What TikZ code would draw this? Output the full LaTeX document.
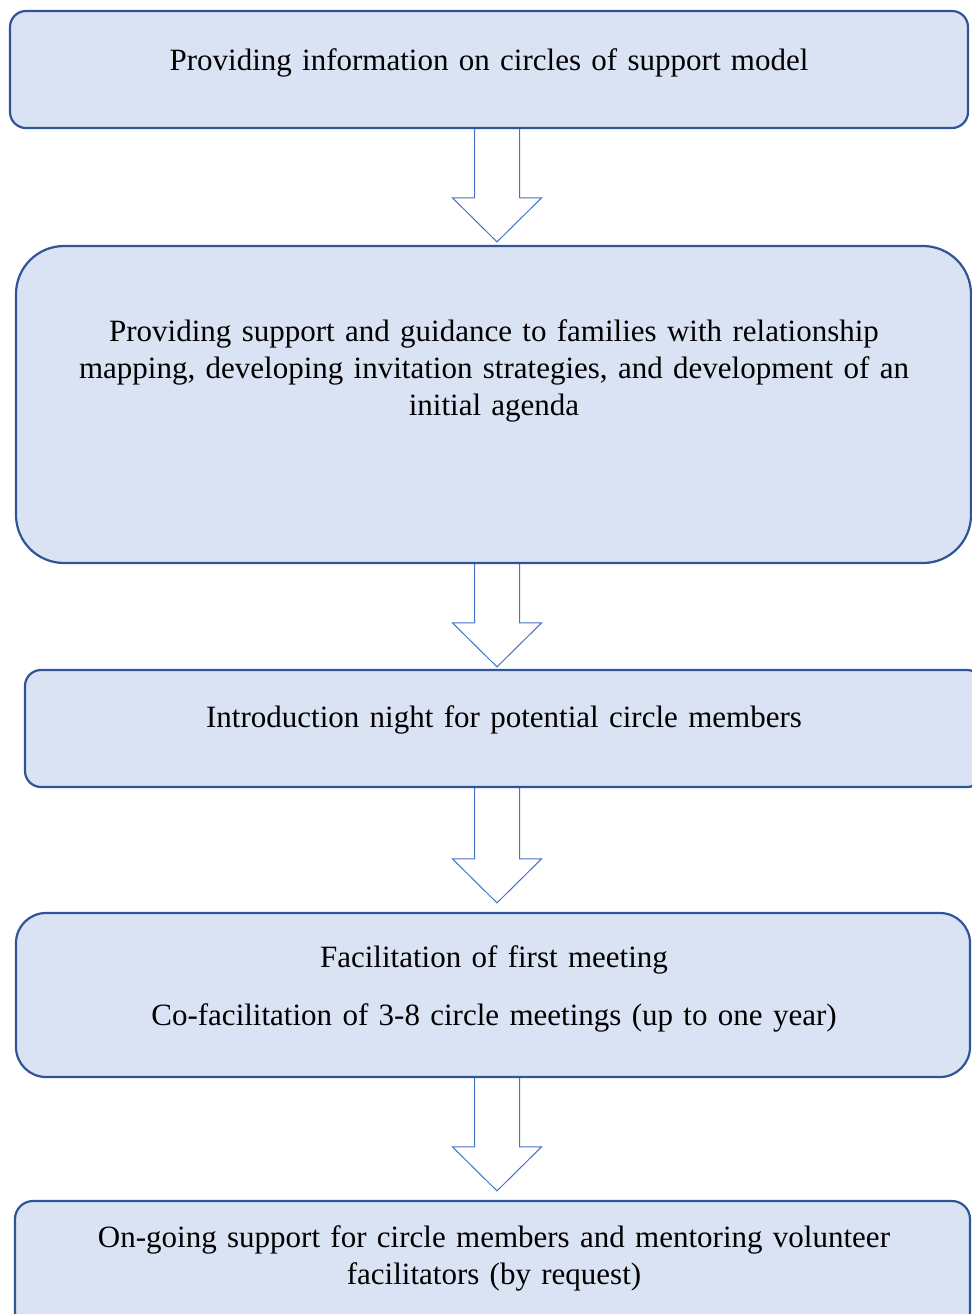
\documentclass[tikz,border=0pt]{standalone}
\usepackage{fontspec}
\setmainfont{Liberation Serif}
\usetikzlibrary{calc}
\definecolor{boxfill}{HTML}{DAE3F3}
\definecolor{boxline}{HTML}{2F5597}
\definecolor{arrowline}{HTML}{4472C4}
\tikzset{
  stagebox/.style={rectangle,draw=boxline,fill=boxfill,line width=1.1pt,inner sep=0pt},
  stagetext/.style={anchor=base,align=center,text width=470pt,inner sep=0pt,
    font=\fontsize{15.5}{18.5}\selectfont},
  flowarrow/.style={draw=arrowline,line width=0.5pt,line join=miter},
}
% block arrow from one stage to the next (#3 = gap above the next box, in px)
\newcommand\flowarrow[3]{%
  \draw[flowarrow] let \p1=(#1.south), \p2=(#2.north), \p3=(axis) in
    (\x3-11.25pt,\y1) -- (\x3-11.25pt,\y2+#3*0.5pt+22pt) -- (\x3-22.25pt,\y2+#3*0.5pt+22pt)
    -- (\x3,\y2+#3*0.5pt) -- (\x3+22.25pt,\y2+#3*0.5pt+22pt)
    -- (\x3+11.25pt,\y2+#3*0.5pt+22pt) -- (\x3+11.25pt,\y1);}
\begin{document}
\begin{tikzpicture}[x=0.5pt,y=-0.5pt]
        \useasboundingbox (0,0) rectangle (972,1314);
        \coordinate (axis) at (497,0);
        %% Stages
        \node[stagebox,minimum width=479pt,minimum height=58.5pt,rounded corners=8pt] (b1) at (489,69.5) {};
        \node[stagebox,minimum width=477.5pt,minimum height=158.5pt,rounded corners=24pt] (b2) at (493.5,404.5) {};
        \node[stagebox,minimum width=479pt,minimum height=58.5pt,rounded corners=8pt] (b3) at (504,728.5) {};
        \node[stagebox,minimum width=477pt,minimum height=82pt,rounded corners=15pt] (b4) at (493,995) {};
        \node[stagebox,minimum width=477.5pt,minimum height=64.5pt,rounded corners=9pt] (b5) at (492.5,1265.5) {};
        %% Texts
        \node[stagetext] (t1) at (489,70) {Providing information on circles of support model};
        \node[stagetext] (t2) at (494,341) {Providing support and guidance to families with relationship\\
          mapping, developing invitation strategies, and development of an\\
          initial agenda};
        \node[stagetext] (t3) at (504,727) {Introduction night for potential circle members};
        \node[stagetext] (t4) at (494,967) {Facilitation of first meeting\\[10.5pt]
          Co-facilitation of 3-8 circle meetings (up to one year)};
        \node[stagetext] (t5) at (494,1247) {On-going support for circle members and mentoring volunteer\\
          facilitators (by request)};
        %% Arrows
        \flowarrow{b1}{b2}{3}
        \flowarrow{b2}{b3}{2}
        \flowarrow{b3}{b4}{9}
        \flowarrow{b4}{b5}{9}
\end{tikzpicture}
\end{document}
